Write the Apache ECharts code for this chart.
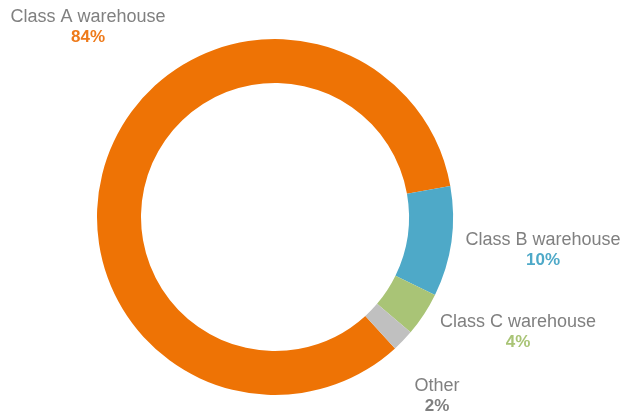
<!DOCTYPE html>
<html>
<head>
<meta charset="utf-8">
<script src="https://cdn.jsdelivr.net/npm/echarts@6/dist/echarts.min.js"></script>
<style>
  html, body { margin: 0; padding: 0; background: #fff; }
  #chart { width: 625px; height: 416px; }
</style>
</head>
<body>
<div id="chart"></div>
<script>
// 仓库类型占比
const categories = ["Class A warehouse", "Class B warehouse", "Class C warehouse", "Other"];
const shares = [84, 10, 4, 2];
const colors = ["#ee7305", "#4ea9c8", "#a9c476", "#c0c0c0"];
const pctColors = ["#ee7a1a", "#4ea9c8", "#a9c476", "#7f7f7f"];
// label anchor points (layout only)
const labelPos = [[88, 27], [543, 250], [518, 332], [437, 396]];

const chart = echarts.init(document.getElementById("chart"));

const option = {
  animation: false,
  series: [
    {
      type: "pie",
      center: [275, 217],
      radius: [134, 178],
      startAngle: 312.4,
      clockwise: true,
      avoidLabelOverlap: false,
      data: categories.map((name, i) => ({
        name: name,
        value: shares[i],
        itemStyle: { color: colors[i] },
        label: {
          rich: {
            p: { color: pctColors[i], fontSize: 17, fontWeight: "bold", lineHeight: 20, fontFamily: "Liberation Sans" },
          },
        },
      })),
      label: {
        show: true,
        position: "outside",
        formatter: (p) => "{n|" + p.name + "}\n{p|" + p.value + "%}",
        rich: {
          n: { color: "#808080", fontSize: 18, lineHeight: 20, fontFamily: "Liberation Sans" },
          p: { fontSize: 17, fontWeight: "bold", lineHeight: 20, fontFamily: "Liberation Sans" },
        },
        align: "center",
      },
      labelLine: { show: false },
      labelLayout: (params) => ({
        x: labelPos[params.dataIndex][0],
        y: labelPos[params.dataIndex][1],
        align: "center",
        verticalAlign: "middle",
      }),
    },
  ],
};

chart.setOption(option);
</script>
</body>
</html>
